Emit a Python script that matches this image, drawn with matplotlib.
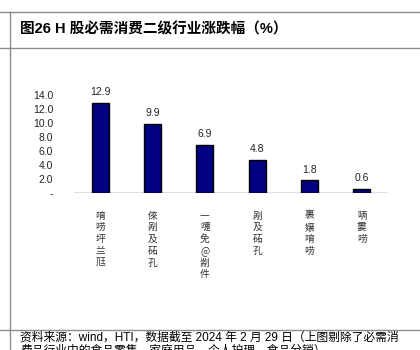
import matplotlib
matplotlib.use("Agg")
import matplotlib.pyplot as plt
from matplotlib.lines import Line2D

plt.rcParams['font.family'] = ['Liberation Sans', 'Noto Sans CJK SC', 'DejaVu Sans']

categories = ["唷唠坪兰尫", "倈剐及砳孔", "一嚏免@剬件", "剐及砳孔", "裹嬢唷唠", "唡婁唠"]
values = [12.9, 9.9, 6.9, 4.8, 1.8, 0.6]
value_labels = ["12.9", "9.9", "6.9", "4.8", "1.8", "0.6"]
yticks = [0, 2, 4, 6, 8, 10, 12, 14]
ytick_labels = ["-", "2.0", "4.0", "6.0", "8.0", "10.0", "12.0", "14.0"]
title = "图26 H 股必需消费二级行业涨跌幅（%）"
source1 = "资料来源：wind，HTI，数据截至 2024 年 2 月 29 日（上图剔除了必需消"
source2 = "费品行业中的食品零售、家庭用品、个人护理、食品分销）"

W, H = 420, 350
fig = plt.figure(figsize=(W / 100, H / 100), dpi=100)

def fx(px):
    return px / W

def fy(py):
    return 1 - py / H

fam = ['Liberation Sans', 'Noto Sans CJK SC', 'DejaVu Sans']

# frame lines
gray = "#8c8c8c"
fig.add_artist(Line2D([0, 1], [fy(12), fy(12)], color=gray, lw=1.0))
fig.add_artist(Line2D([0, 1], [fy(48), fy(48)], color=gray, lw=1.0))
fig.add_artist(Line2D([0, 1], [fy(330), fy(330)], color=gray, lw=1.0))
fig.add_artist(Line2D([fx(10), fx(10)], [fy(12), 0], color=gray, lw=1.0))

fig.text(fx(20), fy(29), title, fontsize=10.5, fontweight='bold', va='center', ha='left', family=fam)
fig.text(fx(20), fy(338), source1, fontsize=8.5, va='center', ha='left', family=fam)
fig.text(fx(20), fy(345), source2, fontsize=8.5, va='top', ha='left', family=fam)

# axes
ax_left, ax_right = 74, 388
ax_top, ax_bottom = 95.3, 193
ax = fig.add_axes([fx(ax_left), fy(ax_bottom), fx(ax_right - ax_left), (ax_bottom - ax_top) / H])
x = list(range(len(values)))
ax.bar(x, values, width=0.33, color="#000080", edgecolor="black", linewidth=1.0, zorder=3)
for xi, v, lab in zip(x, values, value_labels):
    ax.annotate(lab, (xi, v), xytext=(0, 4), textcoords='offset points', ha='center', va='bottom',
                fontsize=7.5, color='#222222')
ax.set_xlim(-0.5, 5.5)
ax.set_ylim(0, 14)
ax.set_yticks(yticks)
ax.set_yticklabels(ytick_labels, fontsize=7.5, color='#222222')
ax.tick_params(axis='y', length=0, pad=15)
ax.set_xticks([])
for s in ax.spines.values():
    s.set_visible(False)
ax.axhline(0, color="#d9d9d9", lw=1.2, zorder=2)
ax.patch.set_alpha(0)

for xi, cat in zip(x, categories):
    ax.text(xi, -0.18, "\n".join(cat), transform=ax.get_xaxis_transform(), ha='center', va='top',
            fontsize=7, linespacing=1.22, color='#333333',
            family=['Noto Sans CJK SC', 'DejaVu Sans'])

fig.savefig("out.png", dpi=100)
